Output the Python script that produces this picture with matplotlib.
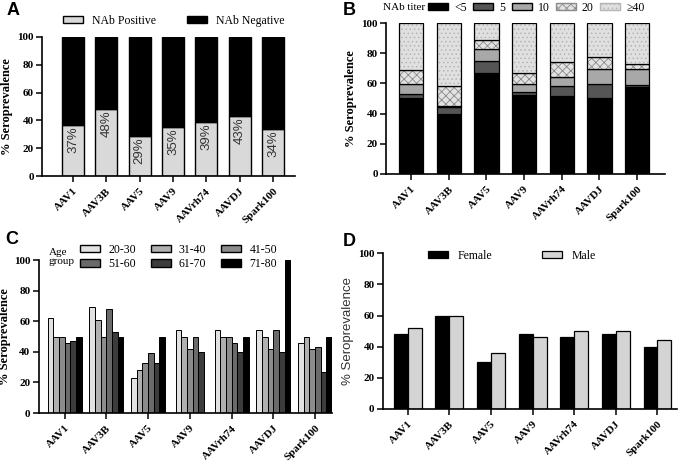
import matplotlib.pyplot as plt
import numpy as np
from matplotlib.patches import Patch

plt.rcParams["font.family"] = ["Liberation Serif", "DejaVu Serif"]
plt.rcParams["hatch.linewidth"] = 0.6

serotypes = ["AAV1", "AAV3B", "AAV5", "AAV9", "AAVrh74", "AAVDJ", "Spark100"]

# A: NAb positive share
nab_positive = [37, 48, 29, 35, 39, 43, 34]

# B: titer bands (stacked segments, % of samples)
titer_labels = ["<5", "5", "10", "20", "≥40"]
titer_lt5 = [50.0, 40.0, 66.7, 52.3, 51.7, 50.6, 57.8]
titer_5 = [3.0, 4.2, 8.4, 2.2, 6.6, 8.8, 1.1]
titer_10 = [6.6, 0.5, 7.5, 4.9, 6.2, 10.1, 10.6]
titer_20 = [9.3, 13.6, 6.2, 7.3, 9.5, 7.8, 3.1]
titer_ge40 = [31.1, 41.7, 11.2, 33.3, 26.0, 22.7, 27.4]

# C: by age group (None = no bar)
age_labels = ["20-30", "31-40", "41-50", "51-60", "61-70", "71-80"]
age_20_30 = [62, 69, 23, 54, 54, 54, 46]
age_31_40 = [50, 61, 28, 50, 50, 50, 50]
age_41_50 = [50, 50, 33, 42, 50, 42, 42]
age_51_60 = [46, 68, 39, 50, 46, 54, 43]
age_61_70 = [47, 53, 33, 40, 40, 40, 27]
age_71_80 = [50, 50, 50, None, 50, 100, 50]

# D: by sex
female = [48, 60, 30, 48, 46, 48, 40]
male = [52, 60, 36, 46, 50, 50, 44]

TICK_FS = 8
SANS = ["Liberation Sans", "DejaVu Sans"]


def style_axes(ax, xlim):
    for side in ("top", "right"):
        ax.spines[side].set_visible(False)
    for side in ("left", "bottom"):
        ax.spines[side].set_linewidth(1.2)
    ax.set_ylim(0, 100)
    ax.set_yticks(range(0, 101, 20))
    ax.set_xlim(*xlim)
    ax.set_xticks(range(len(serotypes)))
    ax.set_xticklabels(serotypes, rotation=45, ha="right", rotation_mode="anchor",
                       fontweight="bold", fontsize=TICK_FS)
    ax.tick_params(axis="both", direction="out", length=4, width=1.1, labelsize=TICK_FS)
    ax.tick_params(axis="y", pad=2)
    for lab in ax.get_yticklabels():
        lab.set_fontweight("bold")


fig = plt.figure(figsize=(6.8, 4.61), dpi=100)
x = np.arange(len(serotypes))

# ---- A ----
axA = fig.add_axes([0.062, 0.618, 0.372, 0.302])
neg = [100 - v for v in nab_positive]
axA.bar(x, nab_positive, 0.66, color="#d9d9d9", edgecolor="black", linewidth=1.0)
axA.bar(x, neg, 0.66, bottom=nab_positive, color="black", edgecolor="black", linewidth=1.0)
for xi, v in zip(x, nab_positive):
    axA.text(xi, v - 1, f"{v}%", rotation=90, ha="center", va="top",
             fontsize=9.5, color="#333333", family=SANS)
style_axes(axA, (-0.93, 6.66))
axA.set_ylabel("% Seroprevalence", fontweight="bold", fontsize=9, labelpad=3)
axA.legend(handles=[Patch(facecolor="#d9d9d9", edgecolor="black", label="NAb Positive"),
                    Patch(facecolor="black", edgecolor="black", label="NAb Negative")],
           loc="center", bbox_to_anchor=(0.52, 1.115), ncol=2, frameon=False,
           fontsize=8.5, handlelength=1.7, handleheight=0.6, columnspacing=2.6,
           borderpad=0, borderaxespad=0)

# ---- B ----
axB = fig.add_axes([0.568, 0.6226, 0.410, 0.3275])
segments = [titer_lt5, titer_5, titer_10, titer_20, titer_ge40]
seg_face = ["black", "#555555", "#a8a8a8", "#e2e2e2", "#e0e0e0"]
seg_hatch = [None, None, None, "xxxx", "...."]
seg_hcol = [None, None, None, "#8a8a8a", "#b5b5b5"]
bottom = np.zeros(len(serotypes))
handles = []
for vals, fc, h, hc, lab in zip(segments, seg_face, seg_hatch, seg_hcol, titer_labels):
    vals = np.array(vals)
    axB.bar(x, vals, 0.64, bottom=bottom, color=fc, linewidth=0)
    if h:
        axB.bar(x, vals, 0.64, bottom=bottom, fill=False, hatch=h, edgecolor=hc, linewidth=0)
    axB.bar(x, vals, 0.64, bottom=bottom, fill=False, edgecolor="black", linewidth=0.9)
    bottom += vals
    handles.append(Patch(facecolor=fc, edgecolor=hc if hc else "black", hatch=h, label=lab))
style_axes(axB, (-0.66, 6.74))
axB.set_ylabel("% Seroprevalence", fontweight="bold", fontsize=9, labelpad=3)
axB.legend(handles=handles, loc="center left", bbox_to_anchor=(0.15, 1.10), ncol=5,
           frameon=False, fontsize=8.5, handlelength=1.7, handleheight=0.6,
           columnspacing=0.55, handletextpad=0.5, borderpad=0, borderaxespad=0)
fig.text(383 / 680, 1 - 8 / 461, "NAb titer", fontsize=8, va="center", ha="left")

# ---- C ----
axC = fig.add_axes([0.057, 0.104, 0.431, 0.332])
age_series = [age_20_30, age_31_40, age_41_50, age_51_60, age_61_70, age_71_80]
age_cols = ["#e2e2e2", "#b0b0b0", "#8c8c8c", "#6a6a6a", "#3c3c3c", "#000000"]
bw = 0.136
for i in range(len(serotypes)):
    present = [(k, s[i]) for k, s in enumerate(age_series) if s[i] is not None]
    n = len(present)
    for j, (k, v) in enumerate(present):
        axC.bar(i + (j - (n - 1) / 2) * bw, v, bw, color=age_cols[k],
                edgecolor="black", linewidth=0.7)
style_axes(axC, (-0.62, 6.4))
axC.set_ylabel("% Seroprevalence", fontweight="bold", fontsize=9, labelpad=2)
age_handles = [Patch(facecolor=c, edgecolor="black", label=l) for c, l in zip(age_cols, age_labels)]
order = [0, 3, 1, 4, 2, 5]
axC.legend(handles=[age_handles[o] for o in order], loc="center left",
           bbox_to_anchor=(0.14, 1.02), ncol=3, frameon=False, fontsize=8.5,
           handlelength=1.7, handleheight=0.6, columnspacing=1.25, handletextpad=0.7,
           labelspacing=0.2, borderpad=0, borderaxespad=0)
fig.text(49 / 680, 1 - 257 / 461, "Age\ngroup", fontsize=8, va="center", ha="left",
         linespacing=0.95)

# ---- D ----
axD = fig.add_axes([0.563, 0.1128, 0.432, 0.338])
dw = 0.335
axD.bar(x - dw / 2, female, dw, color="black", edgecolor="black", linewidth=0.9, label="Female")
axD.bar(x + dw / 2, male, dw, color="#d4d4d4", edgecolor="black", linewidth=0.9, label="Male")
style_axes(axD, (-0.6, 6.46))
axD.set_ylabel("% Seroprevalence", fontsize=9.5, family=SANS, color="#333333", labelpad=3)
axD.legend(loc="center", bbox_to_anchor=(0.44, 0.985), ncol=2, frameon=False,
           fontsize=8.5, handlelength=1.7, handleheight=0.6, columnspacing=4.2,
           borderpad=0, borderaxespad=0)

# panel letters
for lab, px, py in [("A", 7, 2), ("B", 343, 2), ("C", 5, 231), ("D", 343, 233)]:
    fig.text(px / 680, 1 - py / 461, lab, fontsize=13, fontweight="bold",
             family=SANS, va="top", ha="left")

fig.savefig("out.png", dpi=100)
